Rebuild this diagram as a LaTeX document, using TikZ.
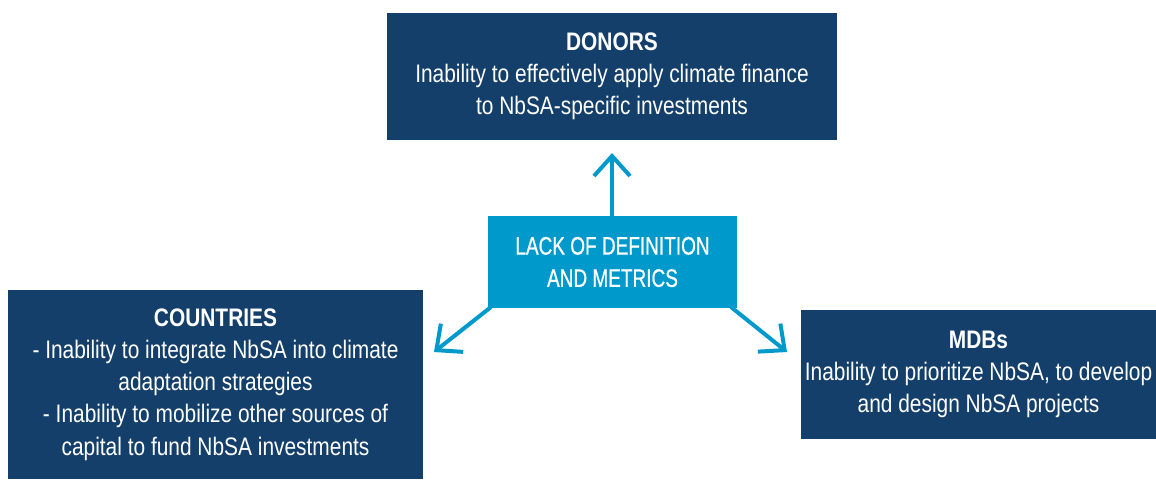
\documentclass[tikz,border=0pt]{standalone}
\usepackage{fontspec}
\setmainfont{Liberation Sans}[FakeStretch=0.825]
\newfontfamily\medfont{Liberation Sans}[FakeStretch=0.75, FakeBold=0.7]
\usetikzlibrary{arrows.meta}
\definecolor{navy}{HTML}{143F6A}
\definecolor{lightblue}{HTML}{0099CC}
\tikzset{
  box/.style={fill=navy, text=white, align=center, inner sep=0pt,
    font=\fontsize{19}{24.2}\selectfont},
  corebox/.style={fill=lightblue, text=white, align=center, inner sep=0pt,
    font=\fontsize{19}{24.2}\selectfont\medfont},
  link/.style={draw=lightblue, line width=3pt,
    -{Straight Barb[length=15pt, width=27pt, line width=3pt]}}
}
\begin{document}
\begin{tikzpicture}[x=0.75pt, y=-0.75pt]
\useasboundingbox (0,0) rectangle (1156,480);
\node[box, minimum width=450*0.75pt, minimum height=127*0.75pt] (donors) at (612,76.5)
  {\textbf{DONORS}\\Inability to effectively apply climate finance\\to NbSA-specific investments};
\node[corebox, minimum width=249*0.75pt, minimum height=92*0.75pt] (core) at (612.5,262)
  {LACK OF DEFINITION\\AND METRICS};
\node[box, minimum width=415*0.75pt, minimum height=189*0.75pt] (countries) at (215.5,384.5)
  {\textbf{COUNTRIES}\\- Inability to integrate NbSA into climate\\adaptation strategies\\- Inability to mobilize other sources of\\capital to fund NbSA investments};
\node[box, minimum width=355*0.75pt, minimum height=129*0.75pt] (mdbs) at (978.5,374.5)
  {\textbf{MDBs}\\Inability to prioritize NbSA, to develop\\and design NbSA projects};
\coordinate (tipU) at (612,153);
\coordinate (startL) at (491,307);
\coordinate (tipL) at (434,352);
\coordinate (startR) at (731,307);
\coordinate (tipR) at (787,352);
\draw[link] (core.north -| tipU) -- (tipU);
\draw[link] (startL) -- (tipL);
\draw[link] (startR) -- (tipR);
\end{tikzpicture}
\end{document}
